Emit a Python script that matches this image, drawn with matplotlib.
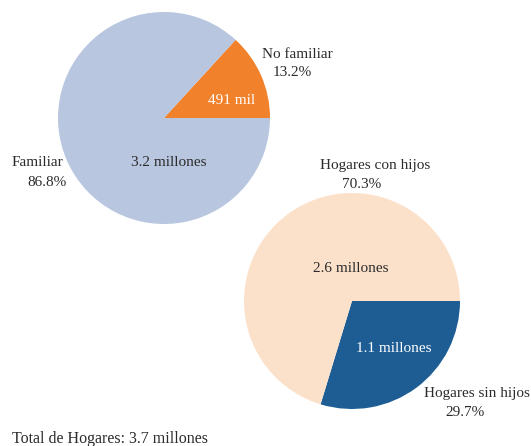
import matplotlib.pyplot as plt

plt.rcParams['font.family'] = ['Liberation Serif', 'DejaVu Serif']

tipo_labels = ['No familiar', 'Familiar']
tipo_pct = [13.2, 86.8]
tipo_vals = ['491 mil', '3.2 millones']
tipo_colors = ['#F1812A', '#B8C6DF']

hijos_labels = ['Hogares sin hijos', 'Hogares con hijos']
hijos_pct = [29.7, 70.3]
hijos_vals = ['1.1 millones', '2.6 millones']
hijos_colors = ['#1D5D94', '#FCE1CA']

total = 'Total de Hogares: 3.7 millones'

W, H = 531, 446
fig = plt.figure(figsize=(W / 100, H / 100), dpi=100)
txt = '#2b2b2b'

def px(x, y):
    return x / W, 1 - y / H

def pie_axes(cx, cy, r):
    return fig.add_axes([(cx - r) / W, (H - cy - r) / H, 2 * r / W, 2 * r / H])

def finish(ax):
    # pie() sets its own limits, reset them so the circle fills the axes
    ax.set_xlim(-1, 1)
    ax.set_ylim(-1, 1)
    ax.set_aspect('equal')
    ax.axis('off')

# top pie
ax1 = pie_axes(164, 118, 106)
ax1.pie(tipo_pct, colors=tipo_colors, startangle=0, counterclock=True,
        radius=1, wedgeprops=dict(linewidth=0))
finish(ax1)

# bottom pie
ax2 = pie_axes(352, 301, 108)
ax2.pie(hijos_pct, colors=hijos_colors, startangle=0, counterclock=False,
        radius=1, wedgeprops=dict(linewidth=0))
finish(ax2)

def label(x, y, s, color=txt):
    fig.text(*px(x, y), s, ha='center', va='center', fontsize=11, color=color)

label(297, 54, tipo_labels[0])
label(292, 73, f'{tipo_pct[0]}%')
label(232, 100, tipo_vals[0], 'white')
label(37, 163, tipo_labels[1])
label(47, 182, f'{tipo_pct[1]}%')
label(169, 163, tipo_vals[1])

label(375, 166, hijos_labels[1])
label(362, 184, f'{hijos_pct[1]}%')
label(351, 268, hijos_vals[1])
label(394, 348, hijos_vals[0], 'white')
label(477, 393, hijos_labels[0])
label(465, 413, f'{hijos_pct[0]}%')

fig.text(*px(12, 439), total, ha='left', va='center', fontsize=11.5, color=txt)

fig.savefig('out.png', dpi=100)
